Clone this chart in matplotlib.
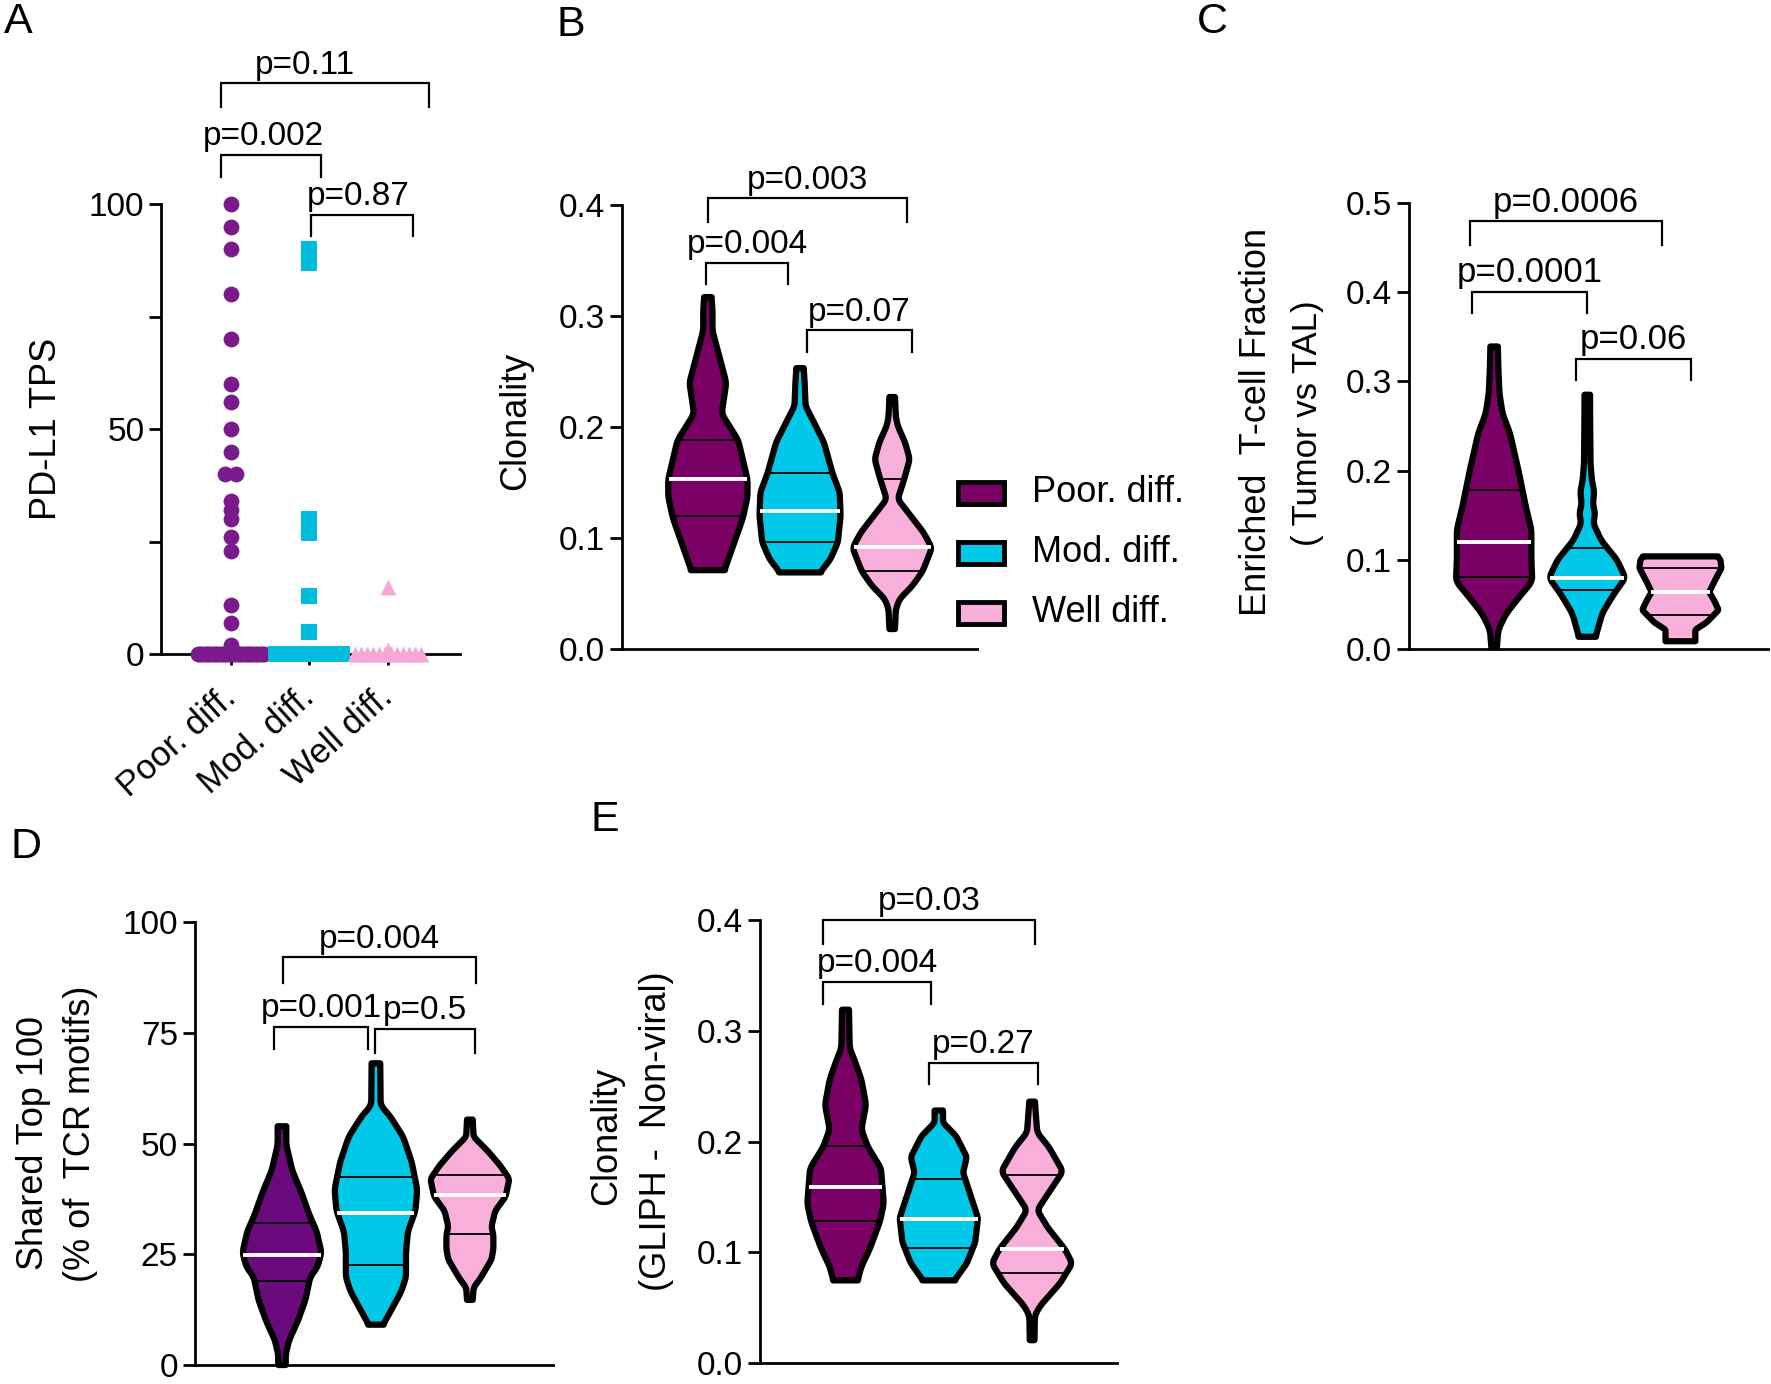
import numpy as np
import matplotlib
matplotlib.use('Agg')
import matplotlib.pyplot as plt
from matplotlib.patches import Rectangle

plt.rcParams['font.family'] = ['Liberation Sans', 'DejaVu Sans']

# ---------------- data ----------------
groups = ['Poor. diff.', 'Mod. diff.', 'Well diff.']

# panel A: PD-L1 TPS per patient (non-zero values) and number of zero values
tps_poor = [100, 95, 90, 80, 70, 60, 56, 50, 45, 40, 40, 34, 32, 30, 26, 23, 11, 7, 2]
tps_mod = [90, 87, 30, 27, 13, 5]
tps_well = [15, 1]
zeros_poor, zeros_mod, zeros_well = 30, 28, 12

# violin outlines: (value levels, half widths in group units) + quartiles
b_poor_y = [0.071, 0.085, 0.118, 0.137, 0.153, 0.188, 0.212, 0.240, 0.265, 0.287, 0.305, 0.317]
b_poor_w = [0.18, 0.24, 0.38, 0.43, 0.43, 0.33, 0.15, 0.20, 0.12, 0.05, 0.05, 0.04]
b_mod_y = [0.069, 0.081, 0.096, 0.120, 0.141, 0.159, 0.186, 0.201, 0.219, 0.240, 0.253]
b_mod_w = [0.22, 0.33, 0.41, 0.44, 0.43, 0.35, 0.26, 0.17, 0.06, 0.05, 0.04]
b_well_y = [0.018, 0.036, 0.045, 0.057, 0.070, 0.091, 0.105, 0.120, 0.135, 0.153, 0.171, 0.186, 0.201, 0.209, 0.227]
b_well_w = [0.03, 0.04, 0.08, 0.22, 0.33, 0.43, 0.34, 0.20, 0.06, 0.13, 0.19, 0.14, 0.06, 0.04, 0.03]
b_quart = [(0.120, 0.153, 0.188), (0.096, 0.124, 0.159), (0.070, 0.092, 0.153)]

c_poor_y = [0.003, 0.022, 0.040, 0.061, 0.076, 0.100, 0.134, 0.160, 0.201, 0.242, 0.264, 0.287, 0.316, 0.339]
c_poor_w = [0.03, 0.045, 0.13, 0.29, 0.41, 0.40, 0.40, 0.34, 0.26, 0.17, 0.09, 0.057, 0.045, 0.04]
c_mod_y = [0.014, 0.040, 0.061, 0.080, 0.100, 0.122, 0.141, 0.152, 0.163, 0.176, 0.189, 0.208, 0.264, 0.285]
c_mod_w = [0.09, 0.16, 0.28, 0.41, 0.32, 0.15, 0.065, 0.085, 0.06, 0.075, 0.05, 0.035, 0.03, 0.03]
c_well_y = [0.009, 0.022, 0.030, 0.044, 0.055, 0.064, 0.075, 0.091, 0.100, 0.104]
c_well_w = [0.16, 0.16, 0.28, 0.41, 0.36, 0.31, 0.36, 0.44, 0.43, 0.40]
c_quart = [(0.081, 0.120, 0.178), (0.066, 0.080, 0.113), (0.038, 0.064, 0.091)]

d_poor_y = [0, 2.4, 5.6, 10.0, 14.7, 19.8, 22.2, 25.4, 30.1, 34.0, 38.8, 43.9, 49.7, 53.9]
d_poor_w = [0.04, 0.04, 0.076, 0.17, 0.25, 0.30, 0.38, 0.42, 0.37, 0.29, 0.21, 0.11, 0.046, 0.046]
d_mod_y = [9.1, 11.9, 16.6, 19.8, 25.4, 30.1, 34.8, 39.6, 45.9, 51.5, 56.2, 58.6, 68.1]
d_mod_w = [0.076, 0.15, 0.27, 0.32, 0.32, 0.34, 0.42, 0.44, 0.38, 0.29, 0.15, 0.05, 0.046]
d_well_y = [14.7, 17.5, 19.5, 23.8, 26.2, 29.3, 31.3, 34.8, 38.0, 42.0, 45.1, 48.3, 51.5, 55.4]
d_well_w = [0.03, 0.04, 0.11, 0.23, 0.25, 0.25, 0.23, 0.27, 0.38, 0.42, 0.32, 0.19, 0.04, 0.03]
d_quart = [(18.9, 24.9, 32.1), (22.6, 34.2, 42.5), (29.5, 38.4, 42.8)]

e_poor_y = [0.0746, 0.087, 0.103, 0.128, 0.144, 0.176, 0.195, 0.211, 0.233, 0.256, 0.275, 0.284, 0.319]
e_poor_w = [0.13, 0.17, 0.26, 0.37, 0.41, 0.38, 0.24, 0.17, 0.22, 0.17, 0.09, 0.045, 0.037]
e_mod_y = [0.0746, 0.090, 0.109, 0.131, 0.154, 0.172, 0.186, 0.205, 0.217, 0.228]
e_mod_w = [0.17, 0.30, 0.39, 0.42, 0.33, 0.26, 0.30, 0.185, 0.045, 0.045]
e_well_y = [0.0206, 0.043, 0.052, 0.072, 0.090, 0.103, 0.122, 0.138, 0.154, 0.173, 0.195, 0.208, 0.236]
e_well_w = [0.025, 0.03, 0.09, 0.30, 0.43, 0.35, 0.17, 0.055, 0.18, 0.33, 0.18, 0.055, 0.03]
e_quart = [(0.1286, 0.159, 0.196), (0.1038, 0.130, 0.1657), (0.081, 0.103, 0.17)]

# brackets: (x left, x right, bar y, left leg end, right leg end, label, label x)
a_pvals = [(-0.12, 2.52, 126.8, 121.6, 121.6, 'p=0.11', 0.94),
           (-0.12, 1.15, 111.0, 106.0, 106.0, 'p=0.002', 0.41),
           (1.02, 2.32, 97.6, 93.0, 93.0, 'p=0.87', 1.62)]
b_pvals = [(0.0, 2.16, 0.406, 0.385, 0.385, 'p=0.003', None),
           (-0.016, 0.87, 0.348, 0.329, 0.329, 'p=0.004', None),
           (1.08, 2.21, 0.287, 0.268, 0.268, 'p=0.07', None)]
c_pvals = [(-0.26, 1.80, 0.479, 0.453, 0.453, 'p=0.0006', None),
           (-0.24, 1.0, 0.400, 0.376, 0.376, 'p=0.0001', None),
           (0.88, 2.11, 0.325, 0.302, 0.302, 'p=0.06', None)]
d_pvals = [(0.008, 2.07, 92.0, 86.3, 86.3, 'p=0.004', None),
           (-0.088, 0.92, 76.3, 71.3, 71.3, 'p=0.001', None),
           (0.99, 2.05, 75.8, 70.5, 70.5, 'p=0.5', None)]
e_pvals = [(-0.24, 2.03, 0.400, 0.378, 0.378, 'p=0.03', None),
           (-0.24, 0.915, 0.344, 0.324, 0.324, 'p=0.004', None),
           (0.896, 2.06, 0.271, 0.252, 0.252, 'p=0.27', None)]

# ---------------- style ----------------
colors_bce = ['#7a0066', '#00c8e8', '#f8b0da']
colors_d = ['#6a0a7c', '#00c8e8', '#f8b0da']
colors_a = ['#7b1a8c', '#00bde0', '#f5a8d6']

W, H = 1771, 1384
fig = plt.figure(figsize=(W / 100, H / 100), dpi=100)


def px_axes(x0, y0, x1, y1):
    return fig.add_axes([x0 / W, 1 - y1 / H, (x1 - x0) / W, (y1 - y0) / H])


def style(ax, yticks, labels, xlim):
    for s in ['top', 'right']:
        ax.spines[s].set_visible(False)
    for s in ['left', 'bottom']:
        ax.spines[s].set_linewidth(2)
    ax.set_xlim(xlim)
    ax.set_ylim(yticks[0], yticks[-1])
    ax.set_yticks(yticks)
    ax.set_yticklabels(labels)
    ax.tick_params(axis='y', direction='out', length=9, width=2, labelsize=24, pad=3)
    ax.set_xticks([])


def brackets(ax, pvals, fs=24):
    for x0, x1, y, l0, l1, txt, tx in pvals:
        ax.plot([x0, x0, x1, x1], [l0, y, y, l1], color='black', lw=1.6,
                clip_on=False, solid_joinstyle='miter')
        if tx is None:
            tx = (x0 + x1) / 2
        ax.annotate(txt, xy=(tx, y), xytext=(0, 2), textcoords='offset points',
                    ha='center', va='bottom', fontsize=fs, annotation_clip=False)


def smooth_profile(yv, hw, n=300, k=11):
    yy = np.linspace(yv[0], yv[-1], n)
    ww = np.interp(yy, yv, hw)
    ww = np.convolve(np.pad(ww, k // 2, mode='edge'), np.ones(k) / k, mode='valid')
    return yy, ww


def violin(ax, pos, yv, hw, q, color):
    yy, ww = smooth_profile(yv, hw)
    xs = np.concatenate([pos - ww, (pos + ww)[::-1]])
    ys = np.concatenate([yy, yy[::-1]])
    ax.fill(xs, ys, facecolor=color, edgecolor='black', lw=4.5, joinstyle='round',
            clip_on=False, zorder=2)
    for v, c, lw in zip(q, ['black', 'white', 'black'], [1.3, 2.8, 1.3]):
        w = np.interp(v, yy, ww)
        ax.plot([pos - w, pos + w], [v, v], color=c, lw=lw, zorder=3,
                solid_capstyle='butt', clip_on=False)


def ylabel(x, y, txt, fs=26):
    fig.text(x / W, 1 - y / H, txt, rotation=90, ha='center', va='center', fontsize=fs)


# ---------------- A ----------------
ax = px_axes(161, 204, 460, 654)
style(ax, [0, 50, 100], ['0', '50', '100'], (-0.89, 2.92))
ax.set_yticks([25, 75], minor=True)
ax.tick_params(axis='y', which='minor', direction='out', length=9, width=2)
ax.set_xticks([0, 1, 2])
ax.set_xticklabels(groups, rotation=42, ha='right', va='center', rotation_mode='anchor',
                   fontsize=25)
ax.tick_params(axis='x', direction='out', length=8, width=2, pad=20)

markers = ['o', 's', '^']
for i, (vals, nz) in enumerate([(tps_poor, zeros_poor), (tps_mod, zeros_mod), (tps_well, zeros_well)]):
    xs = []
    seen = {}
    for v in vals:
        seen[v] = seen.get(v, 0) + 1
        xs.append(i + (0.07 if seen[v] > 1 else (-0.07 if vals.count(v) > 1 else 0)))
    xs += list(i + np.linspace(-0.42, 0.42, nz))
    ys = list(vals) + [0] * nz
    ax.scatter(xs, ys, s=130, marker=markers[i], color=colors_a[i], lw=0,
               zorder=3, clip_on=False)
brackets(ax, a_pvals)
ylabel(47, 429, 'PD-L1 TPS')

# ---------------- B ----------------
ax = px_axes(621.5, 205, 977, 649)
style(ax, [0, 0.1, 0.2, 0.3, 0.4], ['0.0', '0.1', '0.2', '0.3', '0.4'], (-0.937, 2.92))
for i, (yv, hw) in enumerate([(b_poor_y, b_poor_w), (b_mod_y, b_mod_w), (b_well_y, b_well_w)]):
    violin(ax, i, yv, hw, b_quart[i], colors_bce[i])
brackets(ax, b_pvals)
ylabel(516, 421, 'Clonality')

# legend
for i, (g, c) in enumerate(zip(groups, colors_bce)):
    yc = 493 + 60 * i
    fig.add_artist(Rectangle((958 / W, 1 - (yc + 11) / H), 46 / W, 22 / H,
                             transform=fig.transFigure, facecolor=c,
                             edgecolor='black', lw=3.5))
    fig.text(1032 / W, 1 - yc / H, g, ha='left', va='center', fontsize=26)

# ---------------- C ----------------
ax = px_axes(1408.7, 202.7, 1768, 649.3)
style(ax, [0, 0.1, 0.2, 0.3, 0.4, 0.5], ['0.0', '0.1', '0.2', '0.3', '0.4', '0.5'], (-0.917, 2.94))
for i, (yv, hw) in enumerate([(c_poor_y, c_poor_w), (c_mod_y, c_mod_w), (c_well_y, c_well_w)]):
    violin(ax, i, yv, hw, c_quart[i], colors_bce[i])
brackets(ax, c_pvals, fs=25)
ylabel(1257, 422, 'Enriched  T-cell Fraction')
ylabel(1308, 423, '( Tumor vs TAL)', fs=25)

# ---------------- D ----------------
ax = px_axes(194.6, 922, 553.5, 1365)
style(ax, [0, 25, 50, 75, 100], ['0', '25', '50', '75', '100'], (-0.93, 2.89))
for i, (yv, hw) in enumerate([(d_poor_y, d_poor_w), (d_mod_y, d_mod_w), (d_well_y, d_well_w)]):
    violin(ax, i, yv, hw, d_quart[i], colors_d[i])
brackets(ax, d_pvals)
ylabel(34, 1143, 'Shared Top 100')
ylabel(81, 1134, '(% of  TCR motifs)')

# ---------------- E ----------------
ax = px_axes(759.7, 920, 1117, 1363)
style(ax, [0, 0.1, 0.2, 0.3, 0.4], ['0.0', '0.1', '0.2', '0.3', '0.4'], (-0.92, 2.91))
for i, (yv, hw) in enumerate([(e_poor_y, e_poor_w), (e_mod_y, e_mod_w), (e_well_y, e_well_w)]):
    violin(ax, i, yv, hw, e_quart[i], colors_bce[i])
brackets(ax, e_pvals)
ylabel(607, 1136, 'Clonality')
ylabel(656, 1131, '(GLIPH -  Non-viral)')

# panel letters
for letter, x, y in [('A', 4, 2), ('B', 556, 5), ('C', 1197, 2), ('D', 11, 827), ('E', 590, 800)]:
    fig.text(x / W, 1 - y / H, letter, ha='left', va='top', fontsize=31)

fig.savefig('out.png', dpi=100)
